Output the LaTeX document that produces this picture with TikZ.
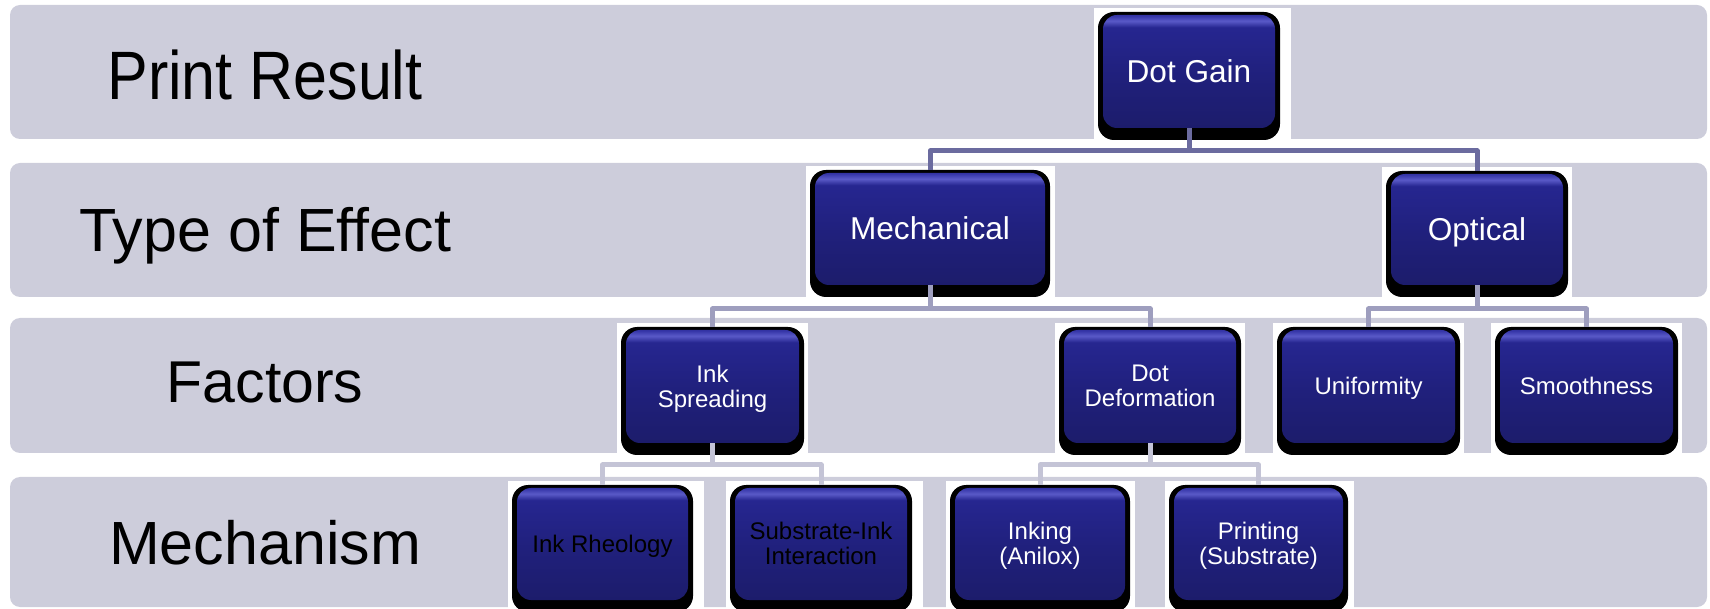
\documentclass[tikz,border=0pt]{standalone}
\usepackage{fontspec}
\usepackage{graphicx}
\setmainfont{Liberation Sans}
\usetikzlibrary{calc}

\definecolor{bandfill}{HTML}{CDCDDB}
\definecolor{lineA}{HTML}{6B6B9F}
\definecolor{lineB}{HTML}{9E9EBE}
\definecolor{lineC}{HTML}{C4C4D6}
% glossy blue of the boxes, bottom to top
\definecolor{gl0}{HTML}{2A2A80}
\definecolor{gl1}{HTML}{4848AC}
\definecolor{gl2}{HTML}{1C1C6A}
\definecolor{gl3}{HTML}{20207C}
\definecolor{gl4}{HTML}{262690}
\definecolor{gl5}{HTML}{5A5AC8}
\definecolor{gl6}{HTML}{3636A8}
\definecolor{gl7}{HTML}{2A2A92}

\pgfdeclareverticalshading{gloss}{100bp}{%
  color(0bp)=(gl0); color(25bp)=(gl0); color(26.5bp)=(gl1);
  color(28.5bp)=(gl2); color(50bp)=(gl3); color(69bp)=(gl4);
  color(71.5bp)=(gl5); color(73.5bp)=(gl6); color(75bp)=(gl7);
  color(100bp)=(gl7)}

\pgfdeclarelayer{back}
\pgfsetlayers{back,main}

\tikzset{
  band/.style={fill=bandfill, rounded corners=5pt},
  rowlbl/.style={inner sep=0pt, text depth=0pt, text=black,
    font=\fontsize{30.5}{36}\selectfont},
  gbox/.style 2 args={rectangle, fill=black, rounded corners=8pt,
    inner sep=0pt, minimum width=#1*0.5pt, minimum height=#2*0.5pt,
    path picture={\shade[shading=gloss, rounded corners=7pt]
      ([xshift=2.5pt,yshift=6pt]path picture bounding box.south west)
      rectangle
      ([xshift=-2.5pt,yshift=-1.5pt]path picture bounding box.north east);}},
  bigtxt/.style={text=white, align=center, inner sep=0pt, text depth=0pt,
    yshift=2.5pt, font=\fontsize{15.8}{16.5}\selectfont},
  smalltxt/.style={text=white, align=center, inner sep=0pt, text depth=0pt,
    yshift=2.5pt, font=\fontsize{12}{12.5}\selectfont},
  bigbox/.style={label={[bigtxt]center:{#1}}},
  smallbox/.style={label={[smalltxt]center:{#1}}},
  darkbox/.style={label={[smalltxt,text=black]center:{#1}}},
  conn/.style={line width=2.5pt, line join=round},
  connA/.style={conn, draw=lineA},
  connB/.style={conn, draw=lineB},
  connC/.style={conn, draw=lineC},
}

\begin{document}
\begin{tikzpicture}[x=0.5pt, y=-0.5pt]
\useasboundingbox (0,0) rectangle (1710,609);

% level bands
\begin{pgfonlayer}{back}
  \fill[band] (10,5)   rectangle (1707,139);
  \fill[band] (10,163) rectangle (1707,297);
  \fill[band] (10,318) rectangle (1707,453);
  \fill[band] (10,477) rectangle (1707,607);
\end{pgfonlayer}

% row titles
\node[rowlbl, font=\fontsize{34.25}{40}\selectfont] (rPrint) at (265,74.5)
  {\scalebox{0.89}[1]{Print Result}};
\node[rowlbl] (rType) at (265,229) {Type of Effect};
\node[rowlbl, font=\fontsize{29.5}{35}\selectfont] (rFact) at (265,382.5) {Factors};
\node[rowlbl] (rMech) at (265,542) {Mechanism};

% boxes
\node[gbox={182}{128}, bigbox={Dot Gain}] (dg) at (1189,76) {};
\node[gbox={240}{127}, bigbox={Mechanical}] (mech) at (930,233.5) {};
\node[gbox={182}{126}, bigbox={Optical}] (opt) at (1477,234) {};
\node[gbox={183}{128}, smallbox={Ink\\Spreading}] (ink) at (712.5,391) {};
\node[gbox={182}{128}, smallbox={Dot\\Deformation}] (dd) at (1150,391) {};
\node[gbox={183}{128}, smallbox={Uniformity}] (uni) at (1368.5,391) {};
\node[gbox={183}{128}, smallbox={Smoothness}] (smo) at (1586.5,391) {};
\node[gbox={181}{127}, darkbox={Ink Rheology}] (rheo) at (602.5,548.5) {};
\node[gbox={182}{127}, darkbox={Substrate-Ink\\Interaction}] (subs) at (821,548.5) {};
\node[gbox={180}{127}, smallbox={Inking\\(Anilox)}] (anx) at (1040,548.5) {};
\node[gbox={179}{127}, smallbox={Printing\\(Substrate)}] (prt) at (1258.5,548.5) {};

% white backing behind each box
\begin{pgfonlayer}{back}
  \foreach \n/\r in {dg/5.5pt, mech/2.5pt, opt/2pt, ink/2pt, dd/2pt,
                     uni/2pt, smo/2pt, rheo/5.5pt, subs/5.5pt, anx/2.5pt, prt/3pt}
    \fill[white] ([shift={(-2pt,2pt)}]\n.north west)
      rectangle ([shift={(\r,0pt)}]\n.south east);
\end{pgfonlayer}

% connectors
\coordinate (busA)  at (1189,151);
\coordinate (busB1) at (930,309);
\coordinate (busB2) at (1477,309);
\coordinate (busC1) at (712.5,465);
\coordinate (busC2) at (1150,465);

\draw[connA] ([yshift=6pt]dg.south) -- (busA);
\draw[connA] (mech.north) |- (busA) -| (opt.north);

\draw[connB] ([yshift=6pt]mech.south) -- (busB1);
\draw[connB] (ink.north) |- (busB1) -| (dd.north);
\draw[connB] ([yshift=6pt]opt.south) -- (busB2);
\draw[connB] (uni.north) |- (busB2) -| (smo.north);

\draw[connC] ([yshift=6pt]ink.south) -- (busC1);
\draw[connC] (rheo.north) |- (busC1) -| (subs.north);
\draw[connC] ([yshift=6pt]dd.south) -- (busC2);
\draw[connC] (anx.north) |- (busC2) -| (prt.north);
\end{tikzpicture}
\end{document}
